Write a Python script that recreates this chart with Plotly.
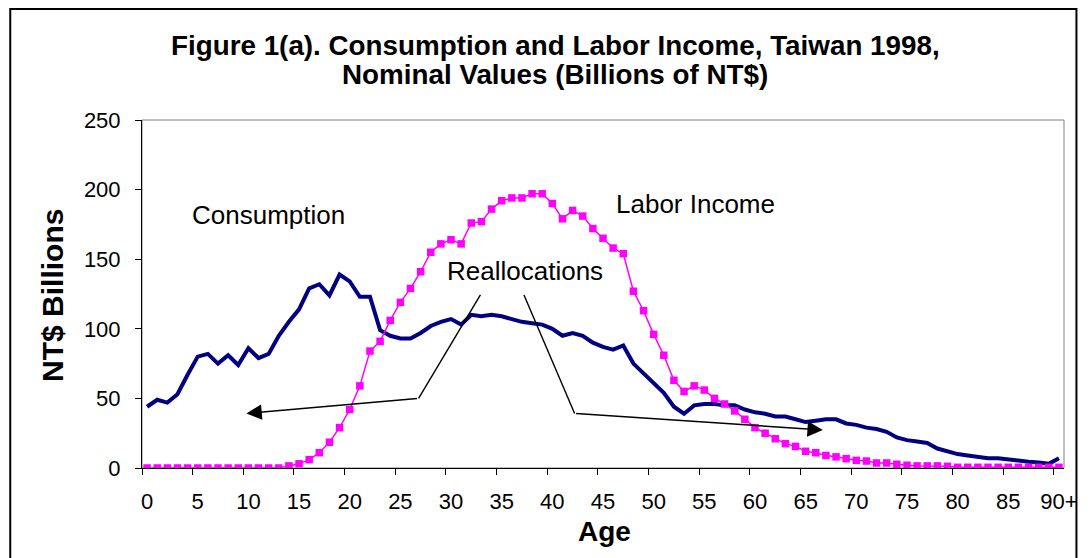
import plotly.graph_objects as go

# ---------------- data ----------------
ages = list(range(0, 91))
age_tick_vals = list(range(0, 91, 5))
age_tick_text = [str(a) for a in range(0, 90, 5)] + ["90+"]

consumption = [44, 49, 47, 53, 67, 80, 82, 75, 81, 74,
               86, 79, 82, 95, 105, 114, 129, 132, 124, 139,
               134, 123, 123, 99, 95, 93, 93, 97, 102, 105,
               107, 103, 110, 109, 110, 109, 107, 105, 104, 103,
               100, 95, 97, 95, 90, 87, 85, 88, 75, 68,
               61, 54, 44, 39, 45, 46, 46, 45, 45, 42,
               40, 39, 37, 37, 35, 33, 34, 35, 35, 32,
               31, 29, 28, 26, 22, 20, 19, 18, 14, 12,
               10, 9, 8, 7, 7, 6, 5, 4.5, 4, 3, 7]

labor_income = [0, 0, 0, 0, 0, 0, 0, 0, 0, 0,
                0, 0, 0, 0, 1.5, 3, 6, 11, 18.5, 29,
                42, 59, 84, 91, 106, 119, 129, 141, 155, 161,
                164, 161, 176, 177, 186, 192, 194, 194, 197, 197,
                190, 179, 185, 181, 172, 165, 158, 154, 127, 113,
                96, 81, 63, 55, 59, 56, 50, 46, 41, 35,
                29, 25, 21, 17.5, 15.5, 12, 11, 9, 8, 6.7,
                5.5, 5, 3.6, 3.6, 2.7, 2, 1.5, 1.5, 1.5, 1.2,
                0.5, 0.5, 0.5, 0.5, 0.5, 0.5, 0.5, 0.5, 0.5, 0.5, 0.5]

# reallocation arrows (age, value) : start -> corner -> arrow tip
left_arrow_x = [32.9, 26.8, 9.8]
left_arrow_y = [124.3, 50.0, 39.2]
right_arrow_x = [37.2, 42.2, 66.7]
right_arrow_y = [124.3, 39.2, 27.3]

FONT = "Arial, Liberation Sans, sans-serif"

fig = go.Figure()

fig.add_trace(go.Scatter(
    x=ages, y=consumption, mode="lines", name="Consumption",
    line=dict(color="#000080", width=4), showlegend=False))

fig.add_trace(go.Scatter(
    x=ages, y=labor_income, mode="lines+markers", name="Labor Income",
    line=dict(color="#FF00FF", width=1.5),
    marker=dict(symbol="square", size=7.5, color="#FF00FF"),
    showlegend=False))

# arrow shafts (first segments)
for xs, ys in ((left_arrow_x, left_arrow_y), (right_arrow_x, right_arrow_y)):
    fig.add_trace(go.Scatter(x=xs[:2], y=ys[:2], mode="lines",
                             line=dict(color="black", width=1.4),
                             showlegend=False, hoverinfo="skip"))

annotations = []
for xs, ys in ((left_arrow_x, left_arrow_y), (right_arrow_x, right_arrow_y)):
    annotations.append(dict(
        x=xs[2], y=ys[2], ax=xs[1], ay=ys[1], xref="x", yref="y",
        axref="x", ayref="y", text="", showarrow=True,
        arrowhead=2, arrowsize=2.2, arrowwidth=1.4, arrowcolor="black"))

# text labels
txt = dict(family=FONT, size=26, color="black")
annotations += [
    dict(x=12.0, y=181.5, xref="x", yref="y", text="Consumption",
         showarrow=False, xanchor="center", yanchor="middle", font=txt),
    dict(x=54.1, y=189.5, xref="x", yref="y", text="Labor Income",
         showarrow=False, xanchor="center", yanchor="middle", font=txt),
    dict(x=37.3, y=141.5, xref="x", yref="y", text="Reallocations",
         showarrow=False, xanchor="center", yanchor="middle", font=txt),
    dict(x=0.4480, y=1.2140, xref="paper", yref="paper",
         xanchor="center", yanchor="middle",
         text="<b>Figure 1(a). Consumption and Labor Income, Taiwan 1998,</b>",
         showarrow=False, font=dict(family=FONT, size=27.8, color="black")),
    dict(x=0.4480, y=1.1320, xref="paper", yref="paper",
         xanchor="center", yanchor="middle",
         text="<b>Nominal Values (Billions of NT$)</b>",
         showarrow=False, font=dict(family=FONT, size=27.8, color="black")),
    dict(x=-0.0977, y=0.497, xref="paper", yref="paper",
         xanchor="center", yanchor="middle",
         text="<b>NT$ Billions</b>", textangle=-90,
         showarrow=False, font=dict(family=FONT, size=30, color="black")),
    dict(x=0.5016, y=-0.183, xref="paper", yref="paper",
         xanchor="center", yanchor="middle",
         text="<b>Age</b>",
         showarrow=False, font=dict(family=FONT, size=28, color="black")),
]

shapes = [
    # plot-area frame (grey)
    dict(type="rect", xref="paper", yref="paper", x0=0, y0=0, x1=1, y1=1,
         line=dict(color="#808080", width=1), layer="below"),
    # outer chart border
    dict(type="rect", xref="paper", yref="paper", x0=-0.1429, y0=-0.35,
         x1=1.0135, y1=1.319, line=dict(color="black", width=2)),
]

fig.update_layout(
    width=1082, height=550,
    margin=dict(l=134, r=17, t=112, b=90),
    paper_bgcolor="white", plot_bgcolor="white",
    font=dict(family=FONT, size=22, color="black"),
    annotations=annotations, shapes=shapes,
    xaxis=dict(range=[-0.5, 90.5], tickmode="array", tickvals=age_tick_vals,
               ticktext=age_tick_text, ticks="", showline=True,
               linecolor="black", linewidth=1, showgrid=False, zeroline=False,
               ticklabelstandoff=14,
               minor=dict(tickmode="linear", tick0=-0.5, dtick=5,
                          ticks="outside", ticklen=6, tickcolor="black",
                          showgrid=False),
               tickfont=dict(family=FONT, size=22, color="black")),
    yaxis=dict(range=[0, 250], tickmode="linear", tick0=0, dtick=50,
               ticks="outside", ticklen=6, tickcolor="black", showline=True,
               linecolor="black", linewidth=1, showgrid=False, zeroline=False,
               ticklabelstandoff=10,
               tickfont=dict(family=FONT, size=22, color="black")),
)

fig.write_html("out.html")
